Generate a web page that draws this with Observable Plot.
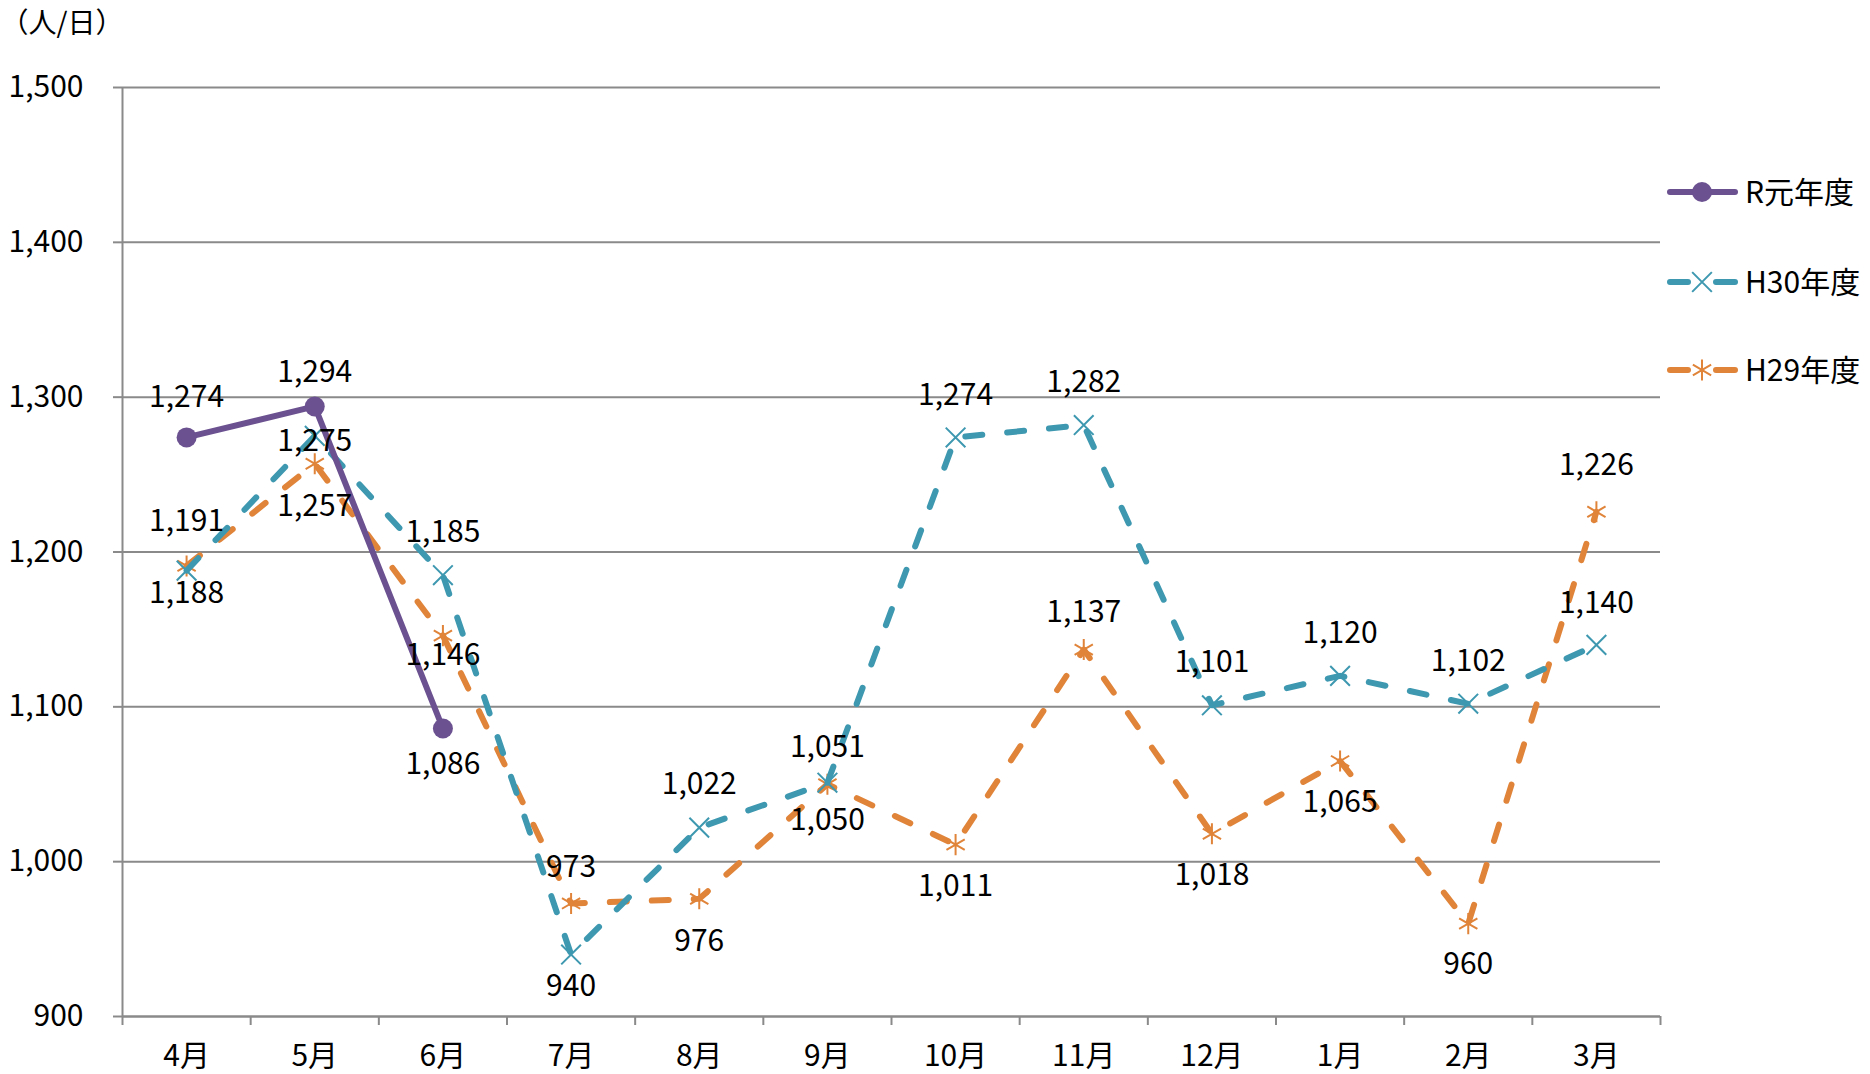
<!DOCTYPE html>
<html>
<head>
<meta charset="utf-8">
<script src="https://cdn.jsdelivr.net/npm/d3@7"></script>
<script src="https://cdn.jsdelivr.net/npm/@observablehq/plot@0.6"></script>
<style>
  body { margin: 0; background: #fff; }
  #wrap { position: relative; width: 1870px; height: 1074px; font-family: "Noto Sans CJK JP", sans-serif; }
  #legend { position: absolute; left: 0; top: 0; pointer-events: none; }
</style>
</head>
<body>
<div id="wrap"></div>
<script>
// ---- data ----
const months = ["4月", "5月", "6月", "7月", "8月", "9月", "10月", "11月", "12月", "1月", "2月", "3月"];
const seriesNames = ["R元年度", "H30年度", "H29年度"];
const valuesR1 = [1274, 1294, 1086];
const valuesH30 = [1188, 1275, 1185, 940, 1022, 1051, 1274, 1282, 1101, 1120, 1102, 1140];
const valuesH29 = [1191, 1257, 1146, 973, 976, 1050, 1011, 1137, 1018, 1065, 960, 1226];
const yTicks = [900, 1000, 1100, 1200, 1300, 1400, 1500];
const unitLabel = "（人/日）";

// ---- styling / label placement (not data) ----
const colors = {"R元年度": "#6b5190", "H30年度": "#3d98b0", "H29年度": "#e0843a"};
const labelDy = {
  "R元年度": [-40, -34, 36],
  "H30年度": [23, 6, -43, 32, -43, -35, -42, -43, -43, -42, -42, -42],
  "H29年度": [-45, 43, 20, -36, 43, 36, 42, -37, 42, 41, 41, -46]
};

const seriesValues = {"R元年度": valuesR1, "H30年度": valuesH30, "H29年度": valuesH29};
const rows = seriesNames.flatMap(s => seriesValues[s].map((v, i) => ({series: s, i, month: months[i], value: v, dy: labelDy[s][i]})));
const bySeries = s => rows.filter(d => d.series === s);
const fmt = d3.format(",");
const boundaries = d3.range(months.length + 1).map(k => k - 0.5);
const gray = "#8a8a8a";
const FS = 30;

const dash = {strokeWidth: 6, strokeDasharray: "17,25", strokeLinecap: "round", strokeLinejoin: "round"};

// one text mark per distinct label offset (Plot's dy is a constant option)
const dyGroups = d3.groups(rows, d => d.dy);
const labelMarks = dyGroups.map(([dy, ds]) =>
  Plot.text(ds, {x: "i", y: "value", text: d => fmt(d.value), dy, fill: "#000", fontSize: FS, lineAnchor: "middle"}));

const chart = Plot.plot({
  width: 1870,
  height: 1074,
  marginLeft: 122,
  marginRight: 210,
  marginTop: 87,
  marginBottom: 58,
  style: {fontFamily: "'Noto Sans CJK JP', sans-serif", fontSize: FS + "px", color: "#000", background: "#fff", overflow: "visible"},
  x: {type: "linear", domain: [-0.5, months.length - 0.5]},
  y: {type: "linear", domain: [900, 1500]},
  marks: [
    Plot.gridY(yTicks, {stroke: gray, strokeOpacity: 1, strokeWidth: 2}),
    Plot.axisY(yTicks, {tickSize: 9, tickPadding: 30, stroke: gray, strokeWidth: 2, tickFormat: fmt, fontSize: FS, label: null}),
    Plot.axisX(boundaries, {tickSize: 9, stroke: gray, strokeWidth: 2, tickFormat: () => "", label: null}),
    Plot.axisX(d3.range(months.length), {tickSize: 0, tickPadding: 28, tickFormat: i => months[i], fontSize: FS, label: null}),
    Plot.ruleX([-0.5], {stroke: gray, strokeWidth: 2}),
    Plot.ruleY([900], {stroke: gray, strokeWidth: 2}),
    // H29
    Plot.line(bySeries("H29年度"), {x: "i", y: "value", stroke: colors["H29年度"], ...dash}),
    Plot.dot(bySeries("H29年度"), {x: "i", y: "value", symbol: "asterisk", r: 10, stroke: colors["H29年度"], strokeWidth: 2}),
    // H30
    Plot.line(bySeries("H30年度"), {x: "i", y: "value", stroke: colors["H30年度"], ...dash}),
    Plot.dot(bySeries("H30年度"), {x: "i", y: "value", symbol: "times", r: 9, stroke: colors["H30年度"], strokeWidth: 2}),
    // R元
    Plot.line(bySeries("R元年度"), {x: "i", y: "value", stroke: colors["R元年度"], strokeWidth: 6, strokeLinecap: "round"}),
    Plot.dot(bySeries("R元年度"), {x: "i", y: "value", r: 10, fill: colors["R元年度"], stroke: null}),
    ...labelMarks,
    Plot.text([unitLabel], {frameAnchor: "top-left", dx: -122, dy: -63, fontSize: 28, textAnchor: "start", lineAnchor: "middle", fill: "#000"})
  ]
});
document.getElementById("wrap").appendChild(chart);

// ---- legend (right side) ----
const legendItems = [
  {name: "R元年度", y: 192, symbol: d3.symbolCircle, size: Math.PI * 10 * 10, filled: true, dashed: false},
  {name: "H30年度", y: 282, symbol: d3.symbolTimes, size: Math.PI * 9 * 9, filled: false, dashed: true},
  {name: "H29年度", y: 370, symbol: d3.symbolAsterisk, size: Math.PI * 10 * 10, filled: false, dashed: true}
];
const svg = d3.select("#wrap").append("svg").attr("id", "legend").attr("width", 1870).attr("height", 1074);
for (const it of legendItems) {
  const g = svg.append("g").attr("transform", `translate(0,${it.y})`);
  const c = colors[it.name];
  if (it.dashed) {
    g.append("line").attr("x1", 1670).attr("x2", 1688).attr("y1", 0).attr("y2", 0)
      .attr("stroke", c).attr("stroke-width", 6).attr("stroke-linecap", "round");
    g.append("line").attr("x1", 1716).attr("x2", 1735).attr("y1", 0).attr("y2", 0)
      .attr("stroke", c).attr("stroke-width", 6).attr("stroke-linecap", "round");
  } else {
    g.append("line").attr("x1", 1670).attr("x2", 1735).attr("y1", 0).attr("y2", 0)
      .attr("stroke", c).attr("stroke-width", 6).attr("stroke-linecap", "round");
  }
  g.append("path").attr("transform", "translate(1702,0)")
    .attr("d", d3.symbol(it.symbol, it.size)())
    .attr("fill", it.filled ? c : "none").attr("stroke", it.filled ? "none" : c).attr("stroke-width", 2);
  g.append("text").attr("x", 1745).attr("y", 0).attr("dy", "0.35em")
    .attr("font-family", "'Noto Sans CJK JP', sans-serif").attr("font-size", 30).attr("fill", "#000")
    .text(it.name);
}
</script>
</body>
</html>
